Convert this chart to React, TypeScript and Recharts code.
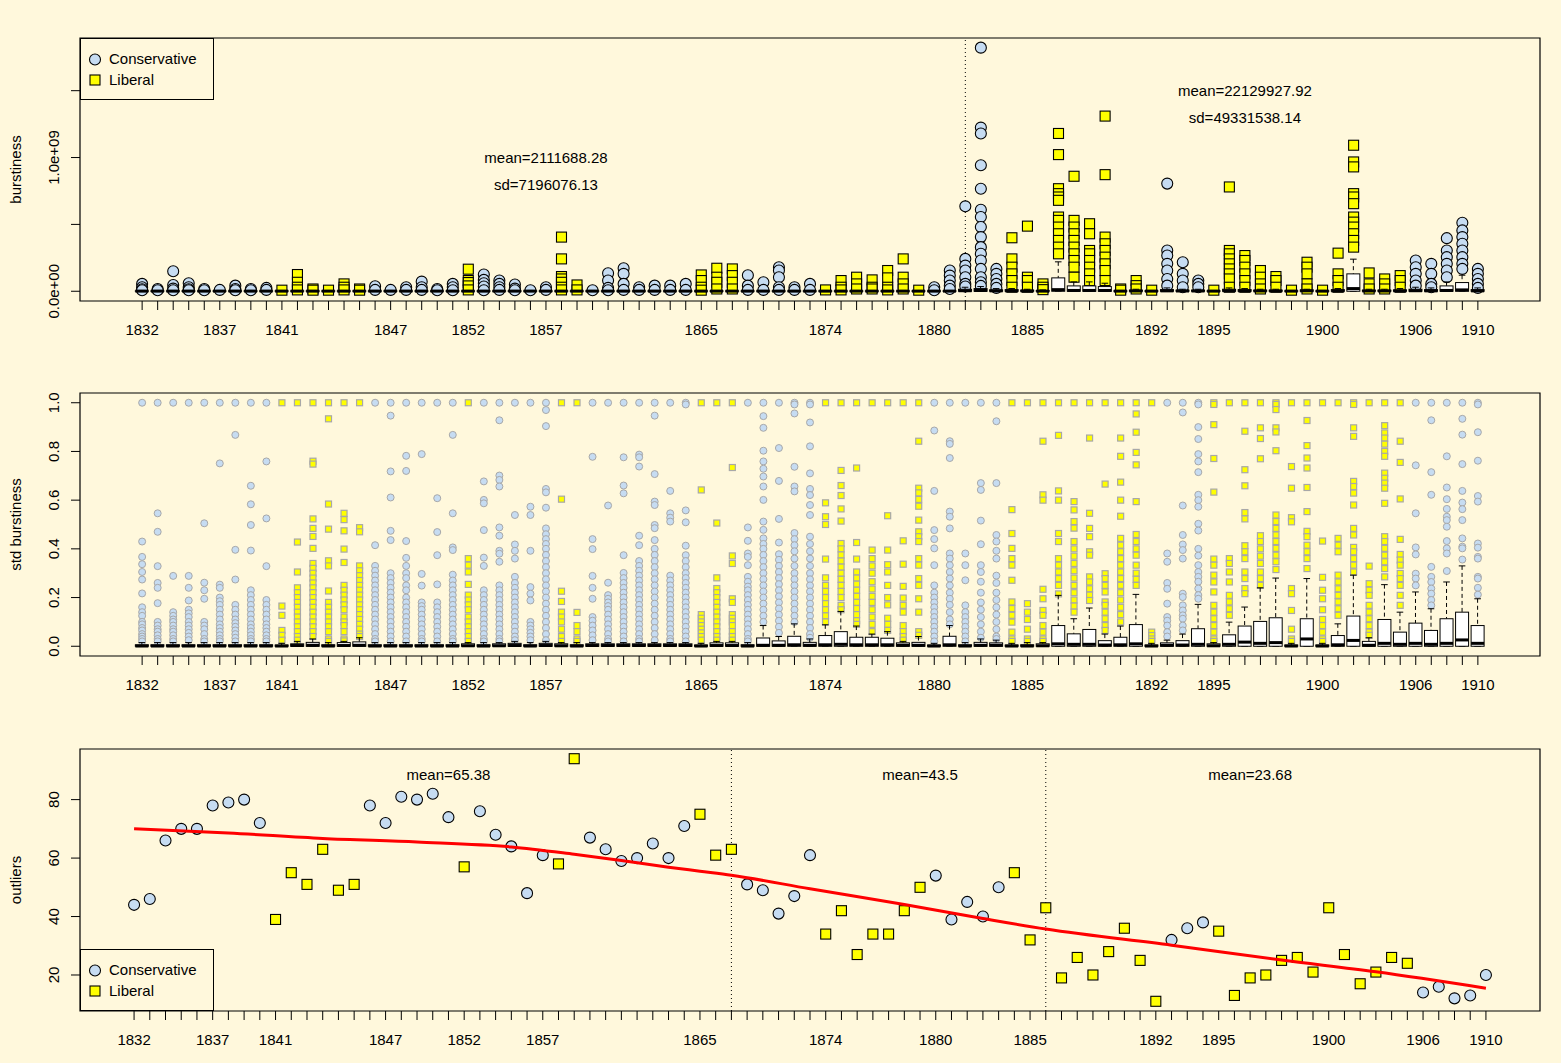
import React from 'react';
import {
  ComposedChart, Scatter, Bar, Line, XAxis, YAxis, ReferenceLine,
  ReferenceArea, ReferenceDot, Legend, Label,
} from 'recharts';

const W = 1561;
const BG = '#FFF8DC';
const BLUE = '#C6DCF2';
const YELLOW = '#FFFF00';
const GREY = '#A8A8A8';
const FONT = '"Liberation Sans", Arial, Helvetica, sans-serif';

// ---------- categories ----------
const partyRuns: [string, number][] = [
  ['C', 9], ['L', 6], ['C', 6], ['L', 1], ['C', 5], ['L', 2], ['C', 7], ['L', 3],
  ['C', 5], ['L', 7], ['C', 5], ['L', 10], ['C', 3], ['L', 13], ['C', 5],
];
const party: string[] = partyRuns.flatMap(([p, n]) => Array.from({ length: n }, () => p));
const catIdx: number[] = party.map((_, i) => i);

const labelIdx = [0, 5, 9, 16, 21, 26, 36, 44, 51, 57, 65, 69, 76, 82, 86];
const labelTxt = ['1832', '1837', '1841', '1847', '1852', '1857', '1865', '1874', '1880', '1885', '1892', '1895', '1900', '1906', '1910'];

// ---------- panel 1 : burstiness (units of 1e9) ----------
const burstPts: number[][] = [
  [.055, .03, .015, .008], [.017, .008], [.15, .047, .02, .008], [.06, .03, .015, .008], [.017, .008],
  [.01], [.042, .017, .008], [.017, .008], [.025, .01], [.008],
  [.125, .067, .03, .01], [.017, .008], [.008], [.055, .03, .01], [.017, .008],
  [.037, .01], [.01], [.03, .01], [.072, .03, .01], [.017, .008],
  [.055, .03, .008], [.165, .08, .065, .04, .01], [.125, .085, .06, .035, .008], [.08, .055, .03, .01], [.05, .02, .008],
  [.008], [.03, .01], [.405, .242, .11, .092, .067, .03, .01], [.047, .01], [.008],
  [.135, .08, .025, .008], [.172, .13, .055, .01], [.03, .01], [.042, .01], [.042, .01],
  [.055, .01], [.122, .08, .03, .008], [.172, .105, .067, .017], [.167, .117, .067, .017], [.12, .042, .01],
  [.067, .01], [.18, .155, .105, .03, .01], [.03, .01], [.055, .01], [.01],
  [.08, .03, .01], [.105, .055, .017], [.085, .03, .017], [.155, .1, .03, .01], [.242, .105, .055, .017],
  [.008], [.03, .008], [.155, .117, .08, .042, .017], [.635, .242, .192, .155, .105, .055, .035],
  [1.822, 1.224, 1.18, .942, .767, .61, .555, .48, .405, .33, .28, .23, .167, .105, .067, .04],
  [.167, .13, .092, .055, .025], [.4, .242, .18, .13, .08, .03], [.487, .105, .08, .03], [.055, .03, .012],
  [1.18, 1.022, .767, .73, .705, .68, .555, .53, .48, .43, .38, .33, .28],
  [.86, .53, .48, .43, .38, .33, .28, .23, .18, .105], [.505, .43, .305, .28, .23, .18, .13, .08],
  [1.31, .872, .405, .355, .305, .255, .205, .155, .08], [.017, .008], [.08, .042, .017],
  [.008], [.805, .305, .267, .205, .155, .092, .042], [.217, .13, .08, .03], [.08, .055, .03], [.008],
  [.78, .305, .28, .242, .205, .167, .13, .092, .03], [.267, .23, .18, .13, .08, .03], [.155, .105, .055, .017], [.11, .08, .03], [.008],
  [.217, .18, .13, .055, .017], [.008], [.285, .13, .08, .03],
  [1.092, .967, .93, .73, .705, .655, .555, .517, .48, .43, .38, .33], [.137, .055, .017],
  [.092, .055, .017], [.117, .08, .03], [.23, .18, .13, .08, .042], [.205, .13, .055, .03], [.397, .305, .255, .205, .155, .105],
  [.512, .455, .405, .355, .305, .255, .205, .167], [.167, .13, .092, .055, .025],
];
const burstQ3 = [
  .003, .003, .003, .003, .003, .003, .003, .003, .003, .003,
  .003, .003, .003, .003, .003, .003, .003, .003, .003, .003,
  .003, .003, .003, .003, .003, .003, .003, .003, .003, .003,
  .003, .003, .003, .003, .003, .003, .003, .003, .003, .003,
  .003, .003, .003, .003, .003, .003, .003, .003, .003, .003,
  .003, .003, .003, .015, .02, .01, .012, .008, .005, .1,
  .04, .04, .035, .003, .008, .003, .012, .008, .008, .003,
  .015, .012, .008, .008, .003, .01, .003, .012, .13, .008,
  .008, .01, .015, .012, .04, .065, .012,
];
const burstMed = [
  .001, .001, .001, .001, .001, .001, .001, .001, .001, .001,
  .001, .001, .001, .001, .001, .001, .001, .001, .001, .001,
  .001, .001, .001, .001, .001, .001, .001, .001, .001, .001,
  .001, .001, .001, .001, .001, .001, .001, .001, .001, .001,
  .001, .001, .001, .001, .001, .001, .001, .001, .001, .001,
  .001, .001, .001, .004, .006, .003, .003, .002, .001, .012,
  .006, .006, .006, .001, .002, .001, .003, .002, .002, .001,
  .004, .003, .002, .002, .001, .003, .001, .003, .02, .002,
  .002, .003, .004, .003, .006, .01, .003,
];
const burstWhi = [
  .006, .006, .006, .006, .006, .006, .006, .006, .006, .006,
  .006, .006, .006, .006, .006, .006, .006, .006, .006, .006,
  .006, .006, .006, .006, .006, .006, .006, .006, .006, .006,
  .006, .006, .006, .006, .006, .006, .006, .006, .006, .006,
  .006, .006, .006, .006, .006, .006, .006, .006, .006, .006,
  .006, .006, .006, .03, .035, .02, .02, .015, .01, .22,
  .07, .07, .06, .006, .015, .006, .025, .015, .015, .006,
  .025, .02, .015, .015, .006, .015, .006, .02, .24, .015,
  .015, .02, .03, .025, .07, .12, .025,
];

// ---------- panel 2 : std burstiness ----------
const stdPts: number[][] = [
  [1, .43, .367, .337, .305, .274, .217, .16, .14, .125, .1, .09, .075, .065, .05, .04, .03, .02],
  [1, .546, .47, .329, .26, .24, .177, .1, .085, .07, .06, .045, .03, .02],
  [1, .289, .14, .125, .11, .1, .085, .07, .06, .045, .03, .02],
  [1, .289, .24, .188, .15, .135, .12, .1, .085, .07, .055, .04, .025],
  [1, .505, .261, .23, .195, .1, .085, .07, .05, .03, .02],
  [1, .751, .253, .24, .2, .185, .17, .15, .13, .11, .09, .075, .06, .045, .03, .02],
  [1, .868, .396, .274, .17, .15, .13, .11, .095, .08, .065, .05, .035, .02],
  [1, .659, .583, .498, .393, .23, .21, .19, .17, .15, .13, .11, .09, .075, .06, .045, .03, .02],
  [1, .759, .525, .329, .19, .17, .15, .13, .11, .09, .075, .06, .045, .03, .02],
  [1, .165, .127, .065, .045, .025],
  [1, .428, .305, .24, .22, .2, .18, .16, .14, .12, .1, .08, .06, .04, .025],
  [1, .76, .748, .523, .484, .451, .402, .34, .32, .3, .28, .26, .24, .22, .2, .18, .16, .14, .12, .1, .08, .06, .04],
  [1, .934, .584, .481, .351, .33, .227, .18, .16, .14, .12, .1, .08, .06, .03, .02],
  [1, .546, .52, .474, .399, .344, .25, .23, .21, .19, .17, .15, .12, .1, .085, .06, .03, .022],
  [1, .487, .47, .33, .31, .29, .27, .25, .23, .21, .19, .17, .15, .13, .11, .09, .07, .05, .04],
  [1, .415, .33, .31, .29, .27, .25, .23, .21, .19, .17, .15, .13, .11, .09, .07, .05, .03, .02],
  [1, .947, .718, .611, .474, .436, .3, .28, .26, .24, .22, .2, .18, .16, .14, .12, .1, .08, .06, .04, .02],
  [1, .782, .72, .432, .363, .33, .3, .28, .25, .23, .2, .18, .16, .14, .12, .1, .08, .06, .04, .02],
  [1, .789, .297, .249, .18, .165, .15, .13, .11, .09, .07, .05, .03, .02],
  [1, .608, .469, .374, .254, .18, .16, .14, .12, .1, .08, .06, .04, .02],
  [1, .868, .546, .406, .395, .294, .27, .25, .23, .21, .19, .17, .15, .13, .11, .09, .07, .05, .03, .02],
  [1, .36, .333, .305, .254, .21, .19, .17, .15, .12, .1, .08, .06, .04, .02],
  [1, .677, .601, .587, .477, .364, .33, .23, .21, .19, .17, .15, .13, .11, .09, .07, .05, .03, .02],
  [1, .928, .701, .683, .656, .488, .454, .392, .38, .347, .25, .23, .21, .19, .17, .15, .13, .11, .09, .07, .05, .03, .02],
  [1, .539, .418, .392, .36, .285, .26, .24, .22, .2, .18, .16, .14, .12, .1, .08, .06, .04, .025],
  [1, .573, .539, .392, .243, .216, .188, .1, .085, .07, .055, .04, .025],
  [1, .97, .904, .646, .632, .569, .484, .46, .44, .42, .4, .375, .35, .325, .3, .275, .25, .225, .2, .175, .15, .125, .1, .075, .05, .025],
  [1, .604, .226, .184, .14, .12, .1, .07, .04, .02],
  [1, .139, .085, .06, .03, .02],
  [1, .778, .44, .399, .289, .24, .195, .12, .105, .085, .065, .045, .025],
  [1, .578, .261, .21, .195, .18, .165, .15, .13, .11, .09, .07, .05, .03, .02],
  [1, .776, .66, .628, .374, .301, .28, .26, .24, .22, .2, .18, .16, .14, .12, .1, .08, .06, .04, .02],
  [1, .787, .776, .738, .454, .415, .35, .33, .31, .29, .27, .25, .23, .21, .19, .17, .15, .13, .11, .09, .07, .05, .03, .02],
  [1, .947, .707, .594, .58, .498, .485, .436, .4, .375, .35, .325, .3, .275, .25, .225, .2, .175, .15, .125, .1, .075, .05, .025],
  [1, .638, .546, .528, .512, .29, .27, .25, .23, .21, .19, .17, .15, .13, .11, .09, .07, .05, .03, .02],
  [1, .993, .558, .509, .413, .374, .35, .325, .3, .28, .26, .24, .22, .2, .18, .16, .14, .12, .1, .08, .06, .04, .02],
  [1, .642, .13, .115, .1, .085, .07, .055, .04, .025],
  [1, .506, .281, .237, .22, .2, .18, .16, .14, .12, .1, .08, .06, .04, .025],
  [1, .734, .371, .34, .195, .18, .13, .115, .1, .085, .06, .04, .025],
  [1, .488, .433, .381, .367, .333, .285, .265, .245, .23, .21, .19, .17, .15, .13, .11, .09, .07, .05, .03, .02],
  [1, .945, .897, .803, .759, .729, .697, .656, .601, .512, .478, .443, .42, .4, .375, .35, .325, .3, .275, .25, .225, .2, .175, .15, .125, .1],
  [1, .814, .679, .523, .426, .378, .355, .33, .305, .28, .255, .23, .205, .18, .155, .13, .105, .08, .055],
  [1, .993, .956, .737, .656, .636, .465, .44, .415, .39, .36, .33, .3, .275, .25, .225, .2, .175, .15, .125, .1],
  [1, .993, .919, .821, .71, .646, .621, .58, .539, .45, .42, .39, .36, .33, .3, .275, .25, .225, .2, .175, .15, .125, .1, .075, .05, .035],
  [1, .589, .532, .5, .358, .281, .25, .225, .2, .175, .15, .125, .1],
  [1, .722, .66, .619, .564, .514, .422, .4, .375, .35, .325, .3, .275, .25, .225, .2, .168, .15],
  [1, .732, .426, .358, .305, .28, .255, .23, .205, .18, .155, .13, .105, .09],
  [1, .395, .36, .33, .3, .265, .235, .205, .18, .15, .12, .09, .06],
  [1, .536, .395, .335, .305, .25, .2, .17, .115, .09, .065],
  [1, .433, .337, .246, .198, .168, .14, .085, .06, .04, .025],
  [1, .842, .649, .63, .603, .575, .518, .47, .45, .43, .36, .333, .278, .25, .195, .14, .06, .045],
  [1, .886, .638, .477, .44, .402, .333, .25, .22, .2, .18, .16, .14, .12, .1, .08, .06, .04, .02],
  [1, .842, .831, .773, .553, .532, .484, .381, .36, .333, .305, .278, .25, .22, .195, .17, .14, .11, .09],
  [1, .381, .333, .271, .168, .14, .12, .1, .08, .06, .04, .02],
  [1, .67, .642, .516, .419, .333, .305, .265, .22, .18, .15, .12, .09, .06, .035],
  [1, .924, .67, .457, .43, .392, .36, .29, .26, .22, .19, .16, .13, .1, .07, .04, .03],
  [1, .561, .463, .402, .36, .333, .271, .182, .155, .127, .099, .058, .03, .02],
  [1, .175, .14, .11, .07, .03, .02],
  [1, .842, .622, .6, .234, .195, .147, .127, .085, .058, .03, .02],
  [1, .866, .638, .6, .463, .43, .36, .333, .305, .278, .25, .215],
  [1, .594, .56, .512, .485, .43, .4, .37, .34, .31, .28, .25, .22, .19, .165, .14],
  [1, .855, .546, .484, .45, .388, .374, .285, .264, .236, .21, .188],
  [1, .666, .298, .278, .25, .223, .182, .168, .14, .113, .085, .065],
  [1, .855, .78, .674, .6, .534, .443, .415, .388, .36, .333, .305, .278, .25, .22, .19, .16, .13, .1],
  [1, .954, .879, .796, .745, .594, .459, .43, .4, .374, .333, .3, .275, .25],
  [1, .058, .044, .03, .02],
  [1, .381, .347, .26, .236, .175, .12, .105, .085, .058, .04],
  [1, .96, .578, .457, .418, .395, .36, .216, .202, .168, .147, .127, .113, .085, .065],
  [1, .993, .9, .851, .789, .759, .715, .622, .6, .573, .503, .475, .4, .372, .333, .305, .285, .265, .237, .21, .195],
  [1, .993, .91, .771, .633, .358, .333, .292, .264, .223, .168, .14, .113, .085, .058, .03, .02],
  [1, .36, .34, .305, .264, .209, .182, .154, .127],
  [1, .883, .725, .659, .549, .523, .413, .388, .36, .305, .278, .237, .216],
  [1, .897, .853, .77, .454, .43, .4, .37, .34, .305, .278, .25],
  [1, .993, .972, .897, .88, .803, .539, .512, .484, .457, .43, .402, .374, .347, .315],
  [1, .738, .649, .528, .511, .237, .216, .147, .07, .03, .02],
  [1, .927, .824, .773, .732, .652, .553, .472, .45, .415, .388, .36, .319],
  [1, .432, .283, .23, .195, .15, .11, .085, .058, .03, .02],
  [1, .443, .415, .388, .292, .264, .236, .209, .182, .154, .127],
  [1, .993, .897, .862, .677, .656, .629, .58, .484, .457, .406, .388, .36, .333, .305],
  [1, .329, .257, .23, .209, .168, .14, .113, .085, .058, .045],
  [1, .906, .876, .855, .83, .8, .78, .711, .69, .67, .649, .587, .45, .43, .402, .374, .347, .319, .285],
  [1, .842, .755, .605, .439, .377, .354, .333, .299, .278, .25, .209, .168],
  [1, .743, .546, .406, .377, .298, .278, .25],
  [1, .928, .715, .622, .326, .285, .264, .237, .216, .19, .168],
  [1, .78, .652, .604, .564, .532, .518, .491, .432, .402, .381, .309],
  [1, .934, .869, .748, .638, .59, .563, .518, .443, .409, .402, .356],
  [1, .993, .879, .762, .617, .594, .422, .405, .367, .36, .285, .278, .24, .212],
];
const stdQ3 = [
  .006, .006, .006, .006, .006, .006, .006, .006, .006, .005,
  .01, .016, .006, .015, .018, .006, .006, .006, .006, .006,
  .006, .01, .006, .01, .012, .006, .012, .01, .006, .01,
  .01, .01, .01, .01, .01, .01, .005, .014, .014, .006,
  .034, .022, .041, .016, .044, .06, .037, .037, .033, .014,
  .016, .005, .041, .006, .016, .014, .005, .006, .01, .085,
  .051, .069, .023, .037, .089, .005, .014, .023, .072, .01,
  .047, .083, .102, .117, .005, .113, .005, .044, .124, .02,
  .11, .058, .095, .065, .113, .14, .085,
];
const stdMed = [
  .001, .001, .001, .001, .001, .001, .001, .001, .001, .001,
  .003, .004, .001, .003, .004, .001, .001, .001, .001, .001,
  .001, .002, .001, .002, .003, .001, .003, .002, .001, .003,
  .003, .003, .003, .003, .003, .003, .001, .003, .003, .001,
  .004, .004, .006, .004, .006, .008, .006, .006, .006, .004,
  .004, .001, .006, .001, .004, .004, .001, .001, .002, .01,
  .008, .008, .005, .006, .01, .001, .004, .005, .008, .002,
  .008, .017, .012, .015, .001, .03, .001, .006, .024, .004,
  .012, .008, .012, .008, .012, .026, .012,
];
const stdWhi = [
  .015, .015, .015, .015, .015, .015, .015, .015, .015, .012,
  .02, .03, .015, .02, .035, .015, .015, .015, .015, .015,
  .015, .015, .015, .015, .02, .015, .02, .015, .015, .015,
  .015, .015, .015, .015, .015, .015, .012, .02, .02, .015,
  .085, .04, .092, .03, .088, .143, .083, .05, .06, .02,
  .04, .012, .085, .015, .03, .025, .012, .015, .015, .209,
  .113, .157, .05, .083, .213, .012, .025, .05, .172, .015,
  .099, .161, .24, .28, .012, .278, .012, .092, .292, .035,
  .253, .14, .223, .154, .264, .33, .195,
];

// ---------- panel 3 : outliers ----------
const outliers = [
  44, 46, 66, 70, 70, 78, 79, 80, 72, 39, 55, 51, 63, 49, 51, 78, 72, 81, 80, 82,
  74, 57, 76, 68, 64, 48, 61, 58, 94, 67, 63, 59, 60, 65, 60, 71, 75, 61, 63, 51,
  49, 41, 47, 61, 34, 42, 27, 34, 34, 42, 50, 54, 39, 45, 40, 50, 55, 32, 43, 19,
  26, 20, 28, 36, 25, 11, 32, 36, 38, 35, 13, 19, 20, 25, 26, 21, 43, 27, 17, 21,
  26, 24, 14, 16, 12, 13, 20,
];
const trendIdx = [0, 6, 12, 18, 24, 28, 31, 34, 36, 38, 43, 49, 54, 58, 66, 73, 79, 86];
const trendVal = [70.0, 68.6, 66.7, 65.5, 63.8, 61.3, 59.2, 56.9, 55.5, 54.1, 49.5, 44.1, 39.3, 35.7, 30.2, 25.1, 21.1, 15.5];

// ---------- derived tables ----------
const flatPts = (pts: number[][], p: string) =>
  pts.flatMap((arr, i) => (party[i] === p ? arr.map((v) => ({ i, v })) : []));
const burstC = flatPts(burstPts, 'C');
const burstL = flatPts(burstPts, 'L');
const stdC = flatPts(stdPts, 'C');
const stdL = flatPts(stdPts, 'L');
const burstBoxes = catIdx.map((i) => ({ i, range: [0, burstWhi[i]], q3: burstQ3[i], med: burstMed[i] }));
const stdBoxes = catIdx.map((i) => ({ i, range: [0, stdWhi[i]], q3: stdQ3[i], med: stdMed[i] }));
const outRows = catIdx.map((i) => ({ i, v: outliers[i] }));
const outC = outRows.filter((r) => party[r.i] === 'C');
const outL = outRows.filter((r) => party[r.i] === 'L');
const trendRows = trendIdx.map((i, k) => ({ i, t: trendVal[k] }));

// ---------- shapes ----------
const bigCircle = (p: any) => <circle cx={p.cx} cy={p.cy} r={5.5} fill={BLUE} stroke="#000" strokeWidth={1.1} />;
const bigSquare = (p: any) => <rect x={p.cx - 5} y={p.cy - 5} width={10} height={10} fill={YELLOW} stroke="#000" strokeWidth={1.1} />;
const smallCircle = (p: any) => <circle cx={p.cx} cy={p.cy} r={3.5} fill={BLUE} stroke={GREY} strokeWidth={1} />;
const smallSquare = (p: any) => <rect x={p.cx - 3} y={p.cy - 3} width={6} height={6} fill={YELLOW} stroke={GREY} strokeWidth={1.2} />;

const BoxShape = (props: any) => {
  const { x, y, width, height, payload } = props;
  if (x == null || y == null || !payload) return <g />;
  const lo = payload.range[0];
  const hi = payload.range[1];
  const span = hi - lo;
  const py = (v: number) => (span > 0 ? y + (height * (hi - v)) / span : y);
  const cx = x + width / 2;
  const yW = py(hi);
  const yQ3 = py(payload.q3);
  const yQ1 = py(lo);
  const yMed = py(payload.med);
  return (
    <g>
      <line x1={cx} x2={cx} y1={yW} y2={yQ3} stroke="#000" strokeWidth={1} strokeDasharray="4 3" />
      <line x1={cx - 3.3} x2={cx + 3.3} y1={yW} y2={yW} stroke="#000" strokeWidth={1} />
      <line x1={cx - 3.3} x2={cx + 3.3} y1={yQ1} y2={yQ1} stroke="#000" strokeWidth={1} />
      <rect x={x} y={yQ3} width={width} height={Math.max(yQ1 - yQ3, 0.01)} fill="#FFFFFF" stroke="#000" strokeWidth={1} />
      <line x1={x} x2={x + width} y1={yMed} y2={yMed} stroke="#000" strokeWidth={3} />
    </g>
  );
};

// ---------- axes helpers ----------
const XTick = (props: any) => {
  const { x, y, payload } = props;
  const k = labelIdx.indexOf(payload.value);
  if (k < 0) return <g />;
  return (
    <text x={x} y={y + 23} textAnchor="middle" fontSize={15} fill="#000">{labelTxt[k]}</text>
  );
};
const makeYTick = (ticks: number[], labels: string[]) => (props: any) => {
  const { x, y, payload } = props;
  const k = ticks.indexOf(payload.value);
  if (k < 0 || !labels[k]) return <g />;
  const tx = x - 10;
  return (
    <text x={tx} y={y} transform={`rotate(-90 ${tx} ${y})`} textAnchor="middle" fontSize={15} fill="#000">{labels[k]}</text>
  );
};
const yTitle = (text: string) => (props: any) => {
  const vb = props.viewBox || {};
  const x = (vb.x || 0) + 21;
  const y = (vb.y || 0) + (vb.height || 0) / 2;
  return (
    <text x={x} y={y} transform={`rotate(-90 ${x} ${y})`} textAnchor="middle" fontSize={15} fill="#000">{text}</text>
  );
};

const LegendBox = () => (
  <div style={{ position: 'relative', width: 134, height: 62, border: '1px solid #000', boxSizing: 'border-box', fontFamily: FONT, fontSize: 15, color: '#000' }}>
    <svg width={20} height={62} style={{ position: 'absolute', left: 4, top: -1 }}>
      <circle cx={10} cy={21.5} r={5.5} fill={BLUE} stroke="#000" strokeWidth={1.1} />
      <rect x={5} y={37} width={10} height={10} fill={YELLOW} stroke="#000" strokeWidth={1.1} />
    </svg>
    <div style={{ position: 'absolute', left: 28, top: 11, lineHeight: '18px', whiteSpace: 'nowrap' }}>Conservative</div>
    <div style={{ position: 'absolute', left: 28, top: 32, lineHeight: '18px', whiteSpace: 'nowrap' }}>Liberal</div>
  </div>
);

const X12: [number, number] = [-4, 90];
const X3: [number, number] = [-3.44, 89.44];
const Y1: [number, number] = [-0.0729, 1.894];
const Y2: [number, number] = [-0.04, 1.04];
const Y3: [number, number] = [7.68, 97.32];
const y1Ticks = [0, 0.5, 1, 1.5];
const y1Labels = ['0.0e+00', '', '1.0e+09', ''];
const y2Ticks = [0, 0.2, 0.4, 0.6, 0.8, 1];
const y2Labels = ['0.0', '0.2', '0.4', '0.6', '0.8', '1.0'];
const y3Ticks = [20, 40, 60, 80];
const y3Labels = ['20', '40', '60', '80'];

const MARGIN = { top: 10, right: 21, bottom: 0, left: 0 };
const txtLabel = (value: string) => ({ value, position: 'center' as const, fontSize: 15, fill: '#000' });

export default function App() {
  return (
    <div style={{ position: 'absolute', left: 0, top: 0, width: W, height: 1063, background: BG, fontFamily: FONT, overflow: 'hidden' }}>
      {/* Panel 1 */}
      <div style={{ position: 'absolute', left: 0, top: 28 }}>
        <ComposedChart width={W} height={323} data={burstBoxes} margin={MARGIN}>
          <XAxis type="number" dataKey="i" domain={X12} ticks={catIdx} interval={0} tick={XTick}
            tickSize={9} height={50} axisLine={false} tickLine={{ stroke: '#000' }} allowDataOverflow />
          <YAxis type="number" domain={Y1} ticks={y1Ticks} interval={0} tick={makeYTick(y1Ticks, y1Labels)}
            tickSize={9} width={80} axisLine={false} tickLine={{ stroke: '#000' }} allowDataOverflow>
            <Label content={yTitle('burstiness')} />
          </YAxis>
          <ReferenceArea x1={X12[0]} x2={X12[1]} y1={Y1[0]} y2={Y1[1]} fill="none" fillOpacity={0} stroke="#000" strokeWidth={1.2} ifOverflow="visible" />
          <ReferenceLine x={53} stroke="#000" strokeDasharray="1 3" />
          <Scatter data={burstC} dataKey="v" shape={bigCircle} isAnimationActive={false} />
          <Scatter data={burstL} dataKey="v" shape={bigSquare} isAnimationActive={false} />
          <Bar dataKey="range" barSize={13} shape={BoxShape} isAnimationActive={false} zIndex={650} />
          <ReferenceDot x={26} y={1.0} r={0} fill="none" stroke="none" label={txtLabel('mean=2111688.28')} />
          <ReferenceDot x={26} y={0.8} r={0} fill="none" stroke="none" label={txtLabel('sd=7196076.13')} />
          <ReferenceDot x={71} y={1.5} r={0} fill="none" stroke="none" label={txtLabel('mean=22129927.92')} />
          <ReferenceDot x={71} y={1.3} r={0} fill="none" stroke="none" label={txtLabel('sd=49331538.14')} />
          <Legend layout="vertical" align="center" verticalAlign="middle" content={LegendBox}
            wrapperStyle={{ left: 80, top: 10, width: 134, height: 62 }} />
        </ComposedChart>
      </div>

      {/* Panel 2 */}
      <div style={{ position: 'absolute', left: 0, top: 383 }}>
        <ComposedChart width={W} height={323} data={stdBoxes} margin={MARGIN}>
          <XAxis type="number" dataKey="i" domain={X12} ticks={catIdx} interval={0} tick={XTick}
            tickSize={9} height={50} axisLine={false} tickLine={{ stroke: '#000' }} allowDataOverflow />
          <YAxis type="number" domain={Y2} ticks={y2Ticks} interval={0} tick={makeYTick(y2Ticks, y2Labels)}
            tickSize={9} width={80} axisLine={false} tickLine={{ stroke: '#000' }} allowDataOverflow>
            <Label content={yTitle('std burstiness')} />
          </YAxis>
          <ReferenceArea x1={X12[0]} x2={X12[1]} y1={Y2[0]} y2={Y2[1]} fill="none" fillOpacity={0} stroke="#000" strokeWidth={1.2} ifOverflow="visible" />
          <Scatter data={stdC} dataKey="v" shape={smallCircle} isAnimationActive={false} />
          <Scatter data={stdL} dataKey="v" shape={smallSquare} isAnimationActive={false} />
          <Bar dataKey="range" barSize={13} shape={BoxShape} isAnimationActive={false} zIndex={650} />
        </ComposedChart>
      </div>

      {/* Panel 3 */}
      <div style={{ position: 'absolute', left: 0, top: 739 }}>
        <ComposedChart width={W} height={322} data={outRows} margin={MARGIN}>
          <XAxis type="number" dataKey="i" domain={X3} ticks={catIdx} interval={0} tick={XTick}
            tickSize={9} height={50} axisLine={false} tickLine={{ stroke: '#000' }} allowDataOverflow />
          <YAxis type="number" domain={Y3} ticks={y3Ticks} interval={0} tick={makeYTick(y3Ticks, y3Labels)}
            tickSize={9} width={80} axisLine={false} tickLine={{ stroke: '#000' }} allowDataOverflow>
            <Label content={yTitle('outliers')} />
          </YAxis>
          <ReferenceArea x1={X3[0]} x2={X3[1]} y1={Y3[0]} y2={Y3[1]} fill="none" fillOpacity={0} stroke="#000" strokeWidth={1.2} ifOverflow="visible" />
          <ReferenceLine x={38} stroke="#000" strokeDasharray="1 3" />
          <ReferenceLine x={58} stroke="#000" strokeDasharray="1 3" />
          <Scatter data={outC} dataKey="v" shape={bigCircle} isAnimationActive={false} />
          <Scatter data={outL} dataKey="v" shape={bigSquare} isAnimationActive={false} />
          <Line data={trendRows} dataKey="t" type="monotone" stroke="#FF0000" strokeWidth={3} dot={false} activeDot={false} isAnimationActive={false} zIndex={650} />
          <ReferenceDot x={20} y={88.7} r={0} fill="none" stroke="none" label={txtLabel('mean=65.38')} />
          <ReferenceDot x={50} y={88.7} r={0} fill="none" stroke="none" label={txtLabel('mean=43.5')} />
          <ReferenceDot x={71} y={88.7} r={0} fill="none" stroke="none" label={txtLabel('mean=23.68')} />
          <Legend layout="vertical" align="center" verticalAlign="middle" content={LegendBox}
            wrapperStyle={{ left: 80, top: 210, width: 134, height: 62 }} />
        </ComposedChart>
      </div>
    </div>
  );
}
